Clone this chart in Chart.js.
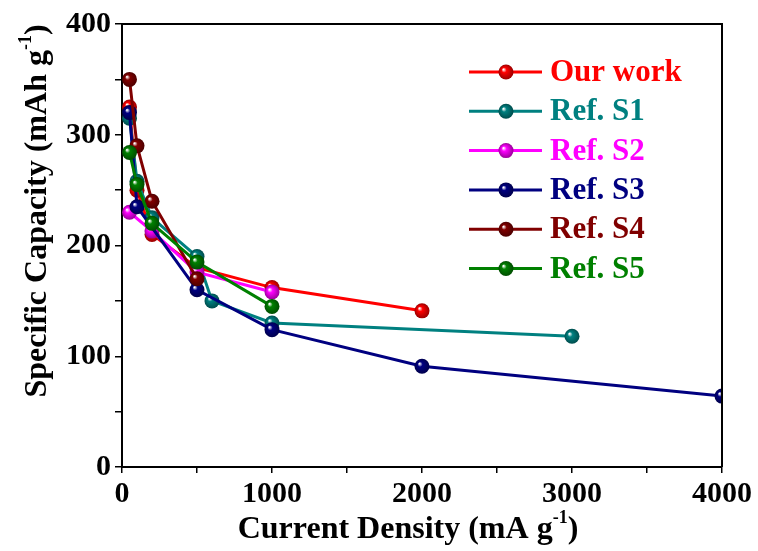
<!DOCTYPE html>
<html>
<head>
<meta charset="utf-8">
<script src="https://cdn.jsdelivr.net/npm/chart.js@4.4.1/dist/chart.umd.min.js"></script>
<style>
  body { margin: 0; background: #fff; }
  #wrap { width: 758px; height: 551px; position: relative; }
</style>
</head>
<body>
<div id="wrap"><canvas id="myChart"></canvas></div>
<script>
// values
const seriesNames = ['Our work', 'Ref. S1', 'Ref. S2', 'Ref. S3', 'Ref. S4', 'Ref. S5'];
const seriesColors = ['#ff0000', '#008080', '#ff00ff', '#000080', '#800000', '#008000'];

const ourX = [50, 100, 200, 500, 1000, 2000];
const ourY = [325, 250, 210, 180, 162, 141];
const s1X = [50, 100, 200, 500, 600, 1000, 3000];
const s1Y = [315, 258, 225, 190, 150, 130, 118];
const s2X = [50, 200, 500, 1000];
const s2Y = [230, 213, 176, 158];
const s3X = [50, 100, 500, 1000, 2000, 4000];
const s3Y = [320, 235, 160, 124, 91, 64];
const s4X = [50, 100, 200, 500];
const s4Y = [350, 290, 240, 170];
const s5X = [50, 100, 200, 500, 1000];
const s5Y = [284, 255, 220, 185, 145];

const xTicks = [0, 1000, 2000, 3000, 4000];
const yTicks = [0, 100, 200, 300, 400];

const allX = [ourX, s1X, s2X, s3X, s4X, s5X];
const allY = [ourY, s1Y, s2Y, s3Y, s4Y, s5Y];

const FONT = "'Liberation Serif', 'Times New Roman', serif";

function shade(hex, f) {
    const n = parseInt(hex.slice(1), 16);
    const r = Math.round(((n >> 16) & 255) * f);
    const g = Math.round(((n >> 8) & 255) * f);
    const b = Math.round((n & 255) * f);
    return `rgb(${r},${g},${b})`;
}

function ball(ctx, x, y, r, color) {
    if (!isFinite(x) || !isFinite(y)) return color;
    const grad = ctx.createRadialGradient(x - r * 0.35, y - r * 0.35, r * 0.05, x, y, r);
    grad.addColorStop(0, '#ffffff');
    grad.addColorStop(0.3, color);
    grad.addColorStop(1, shade(color, 0.6));
    return grad;
}

const datasets = seriesNames.map((name, i) => ({
    label: name,
    data: allX[i].map((x, j) => ({ x: x, y: allY[i][j] })),
    borderColor: seriesColors[i],
    borderWidth: 3,
    pointRadius: 7.5,
    pointBorderWidth: 0,
    pointBackgroundColor: (c) => {
        if (!c.parsed) return seriesColors[i];
        const px = c.chart.scales.x.getPixelForValue(c.parsed.x);
        const py = c.chart.scales.y.getPixelForValue(c.parsed.y);
        return ball(c.chart.ctx, px, py, 7.5, seriesColors[i]);
    },
    order: seriesNames.length - i,
    tension: 0
}));

// frame, legend and axis titles
const extras = {
    id: 'extras',
    afterDraw(chart) {
        const ctx = chart.ctx;
        const a = chart.chartArea;
        ctx.save();
        ctx.strokeStyle = '#000';
        ctx.lineWidth = 2;
        ctx.beginPath();
        ctx.moveTo(a.left, a.top);
        ctx.lineTo(a.right, a.top);
        ctx.lineTo(a.right, a.bottom);
        ctx.stroke();

        // legend
        ctx.font = `bold 31px ${FONT}`;
        ctx.textBaseline = 'middle';
        seriesNames.forEach((name, i) => {
            const y = 72 + i * 39.3;
            ctx.strokeStyle = seriesColors[i];
            ctx.lineWidth = 3;
            ctx.beginPath();
            ctx.moveTo(469, y);
            ctx.lineTo(542, y);
            ctx.stroke();
            ctx.fillStyle = ball(ctx, 506, y, 7.5, seriesColors[i]);
            ctx.beginPath();
            ctx.arc(506, y, 7.5, 0, Math.PI * 2);
            ctx.fill();
            ctx.fillStyle = seriesColors[i];
            ctx.textAlign = 'left';
            ctx.fillText(name, 550, y + 1);
        });

        // axis titles with superscript
        function title(main, sup, tail, cx, cy, rot) {
            ctx.save();
            ctx.translate(cx, cy);
            ctx.rotate(rot);
            ctx.fillStyle = '#000';
            ctx.textAlign = 'left';
            ctx.textBaseline = 'alphabetic';
            ctx.font = `bold 32px ${FONT}`;
            const w1 = ctx.measureText(main).width;
            const w3 = ctx.measureText(tail).width;
            ctx.font = `bold 18px ${FONT}`;
            const w2 = ctx.measureText(sup).width;
            const x0 = -(w1 + w2 + w3) / 2;
            ctx.font = `bold 32px ${FONT}`;
            ctx.fillText(main, x0, 11);
            ctx.fillText(tail, x0 + w1 + w2, 11);
            ctx.font = `bold 18px ${FONT}`;
            ctx.fillText(sup, x0 + w1, -4);
            ctx.restore();
        }
        title('Current Density (mA g', '-1', ')', 408, 527, 0);
        title('Specific Capacity (mAh g', '-1', ')', 35, 211, -Math.PI / 2);
        ctx.restore();
    }
};

new Chart(document.getElementById('myChart'), {
    type: 'line',
    data: { datasets: datasets },
    options: {
        responsive: true,
        maintainAspectRatio: false,
        animation: false,
        layout: { padding: { top: 24, right: 36, left: 0, bottom: 0 } },
        plugins: {
            legend: { display: false },
            tooltip: { enabled: false }
        },
        scales: {
            x: {
                type: 'linear',
                min: 0,
                max: 4000,
                afterFit: (s) => { s.height = 84; },
                afterBuildTicks: (s) => {
                    const t = [];
                    for (let v = 0; v <= 4000; v += 500) t.push({ value: v });
                    s.ticks = t;
                },
                ticks: {
                    color: '#000',
                    font: { family: FONT, size: 30, weight: 'bold' },
                    padding: 3,
                    maxRotation: 0,
                    autoSkip: false,
                    callback: (v) => xTicks.includes(v) ? String(v) : ''
                },
                grid: { drawOnChartArea: false, color: '#000', lineWidth: 1.5, tickLength: 6 },
                border: { color: '#000', width: 2 }
            },
            y: {
                min: 0,
                max: 400,
                afterFit: (s) => { s.width = 122; },
                afterBuildTicks: (s) => {
                    const t = [];
                    for (let v = 0; v <= 400; v += 50) t.push({ value: v });
                    s.ticks = t;
                },
                ticks: {
                    color: '#000',
                    font: { family: FONT, size: 30, weight: 'bold' },
                    padding: 4,
                    autoSkip: false,
                    callback: (v) => yTicks.includes(v) ? String(v) : ''
                },
                grid: { drawOnChartArea: false, color: '#000', lineWidth: 1.5, tickLength: 7 },
                border: { color: '#000', width: 2 }
            }
        }
    },
    plugins: [extras]
});
</script>
</body>
</html>
